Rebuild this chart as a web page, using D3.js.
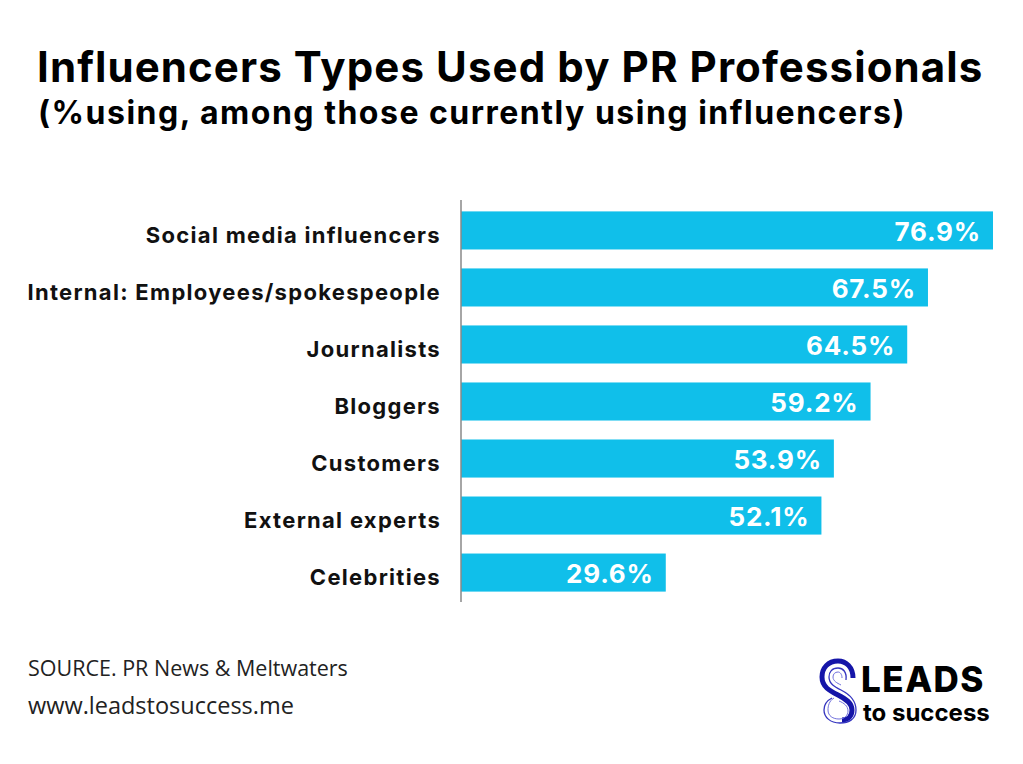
<!DOCTYPE html>
<html>
<head>
<meta charset="utf-8">
<script src="https://cdn.jsdelivr.net/npm/d3@7"></script>
<style>
  body { margin: 0; background: #fff; }
  svg text { font-family: Inter, "Open Sans", sans-serif; }
</style>
</head>
<body>
<div id="chart"></div>
<script>
const categories = ["Social media influencers", "Internal: Employees/spokespeople", "Journalists",
    "Bloggers", "Customers", "External experts", "Celebrities"];
const values = [76.9, 67.5, 64.5, 59.2, 53.9, 52.1, 29.6];

const W = 1023, H = 764;
const margin = {top: 200, left: 461, bottom: 162};
const plotW = 532 / 76.9 * 100;

const svg = d3.select("#chart").append("svg")
    .attr("width", W)
    .attr("height", H);

svg.append("text")
    .attr("x", 37).attr("y", 82)
    .attr("font-size", 42).attr("font-weight", 700)
    .attr("letter-spacing", 1.1)
    .attr("fill", "#000")
    .text("Influencers Types Used by PR Professionals");

svg.append("text")
    .attr("x", 38).attr("y", 124)
    .attr("font-size", 32).attr("font-weight", 700)
    .attr("letter-spacing", 1.5)
    .attr("fill", "#000")
    .text("(%using, among those currently using influencers)");

const x = d3.scaleLinear()
    .domain([0, 100])
    .range([0, plotW]);
const y = d3.scaleBand()
    .domain(categories)
    .range([0, H - margin.top - margin.bottom])
    .paddingInner(0.35)
    .paddingOuter(0.2);

const g = svg.append("g")
    .attr("transform", "translate(" + margin.left + "," + margin.top + ")");

g.selectAll(".bar")
    .data(categories)
    .enter().append("rect")
    .attr("class", "bar")
    .attr("x", 0)
    .attr("y", d => y(d))
    .attr("width", (d, i) => x(values[i]))
    .attr("height", y.bandwidth() + 1)
    .attr("fill", "#10bfea");

g.selectAll(".val")
    .data(categories)
    .enter().append("text")
    .attr("x", (d, i) => x(values[i]) - 12)
    .attr("y", d => y(d) + y.bandwidth() / 2 + 11)
    .attr("text-anchor", "end")
    .attr("font-size", 26).attr("font-weight", 700)
    .attr("letter-spacing", 0.8)
    .attr("fill", "#fff")
    .text((d, i) => values[i].toFixed(1) + "%");

const axis = g.append("g")
    .call(d3.axisLeft(y).tickSize(0).tickPadding(20));
axis.select(".domain").attr("stroke", "#888").attr("stroke-width", 1.5)
    .attr("d", "M0,0V" + (H - margin.top - margin.bottom));
axis.selectAll("text")
    .attr("font-size", 22).attr("font-weight", 700)
    .attr("letter-spacing", 1.3)
    .attr("fill", "#111")
    .attr("font-family", "Inter, sans-serif")
    .attr("dy", "0.6em");

// footer
svg.append("text")
    .attr("x", 28).attr("y", 676)
    .style("font-family", "'Open Sans', sans-serif")
    .attr("font-size", 21.5).attr("fill", "#222")
    .text("SOURCE. PR News & Meltwaters");
svg.append("text")
    .attr("x", 28).attr("y", 714)
    .style("font-family", "'Open Sans', sans-serif")
    .attr("font-size", 23.5).attr("fill", "#222")
    .text("www.leadstosuccess.me");

// logo
const logo = svg.append("g").attr("transform", "translate(820,660)");
logo.append("path")
    .attr("d", "M33,18 C33,7 26,1 18,1 C8,1 2,8 2,17 C2,27 10,31 18,35 C26,39 32,43 32,50 C32,56 28,60 22,60")
    .attr("fill", "none").attr("stroke", "#1515a8").attr("stroke-width", 5);
logo.append("path")
    .attr("d", "M26,20 C27,12 23,8 18,8 C12,8 9,12 9,17 C9,24 15,27 21,30 C29,34 36,40 36,50 C36,59 29,63 20,63 C10,63 4,57 4,50 C4,44 8,40 12,38")
    .attr("fill", "none").attr("stroke", "#3535c0").attr("stroke-width", 1.3);
logo.append("path")
    .attr("d", "M22,18 C22,14 20,12 18,12 C15,12 13,14 13,17 C13,21 17,23 21,25 M14,38 C9,41 8,46 8,50 C8,56 13,59 19,59 C25,59 28,55 28,51 C28,46 24,43 19,41")
    .attr("fill", "none").attr("stroke", "#7070dc").attr("stroke-width", 1);
logo.append("text")
    .attr("x", 41).attr("y", 32)
    .attr("font-size", 35).attr("font-weight", 800)
    .attr("letter-spacing", 1.5)
    .attr("fill", "#000")
    .text("LEADS");
logo.append("text")
    .attr("x", 43).attr("y", 61)
    .attr("font-size", 24).attr("font-weight", 700)
    .attr("fill", "#000")
    .text("to success");
</script>
</body>
</html>
